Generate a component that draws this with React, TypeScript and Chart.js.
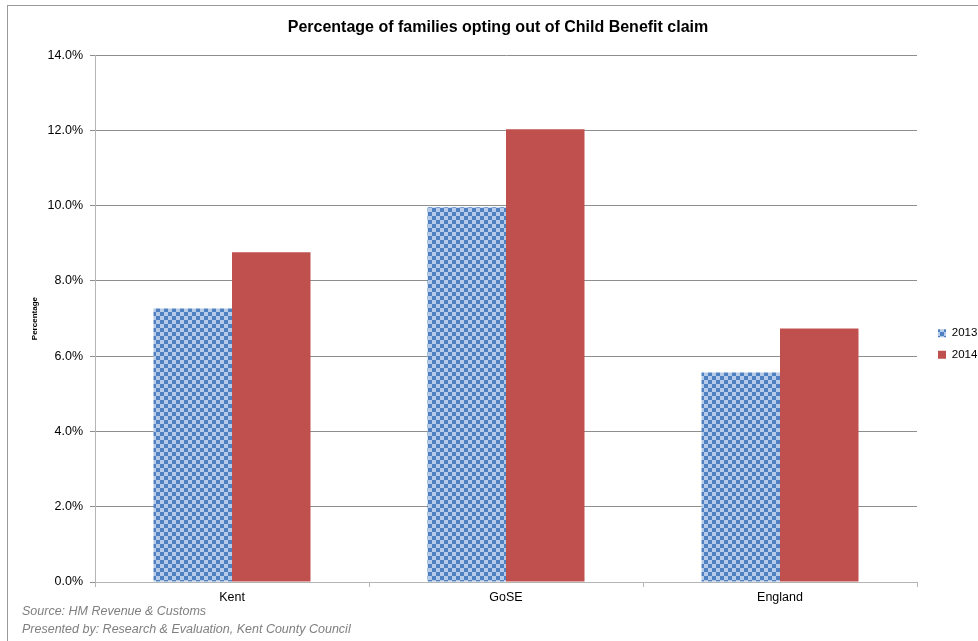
import React, { useEffect, useRef } from 'react';
import { Chart, registerables } from 'chart.js';

Chart.register(...registerables);

const categories = ['Kent', 'GoSE', 'England'];
const seriesLabels = ['2013', '2014'];
const values2013 = [7.27, 9.96, 5.57];
const values2014 = [8.76, 12.03, 6.74];
const yMax = 14;
const yStep = 2;
const chartTitle = 'Percentage of families opting out of Child Benefit claim';
const yAxisTitle = 'Percentage';
const footnotes = ['Source: HM Revenue & Customs', 'Presented by: Research & Evaluation, Kent County Council'];

const FONT = "'Liberation Sans', Arial, sans-serif";

function makeChecker(): CanvasPattern | string {
  const c = document.createElement('canvas');
  c.width = 8;
  c.height = 8;
  const g = c.getContext('2d');
  if (!g) return '#7ba0d6';
  g.fillStyle = '#b6cbea';
  g.fillRect(0, 0, 8, 8);
  g.fillStyle = '#4f81c2';
  g.fillRect(0, 0, 4, 4);
  g.fillRect(4, 4, 4, 4);
  return g.createPattern(c, 'repeat') || '#7ba0d6';
}

export default function App() {
  const ref = useRef<HTMLCanvasElement | null>(null);

  useEffect(() => {
    if (!ref.current) return;
    const pattern = makeChecker();
    const chart = new Chart(ref.current, {
      type: 'bar',
      data: {
        labels: categories,
        datasets: [
          {
            label: seriesLabels[0],
            data: values2013,
            backgroundColor: pattern as any,
            borderWidth: 0,
            categoryPercentage: 0.573,
            barPercentage: 1,
          },
          {
            label: seriesLabels[1],
            data: values2014,
            backgroundColor: '#c0504d',
            borderWidth: 0,
            categoryPercentage: 0.573,
            barPercentage: 1,
          },
        ],
      },
      options: {
        responsive: false,
        animation: false,
        devicePixelRatio: 1,
        layout: { padding: { left: 18, right: 0, top: 0, bottom: 0 } },
        plugins: {
          tooltip: { enabled: false },
          title: {
            display: true,
            text: chartTitle,
            color: '#000',
            font: { family: FONT, size: 16, weight: 'bold', lineHeight: 1.2 },
            padding: { top: 18, bottom: 18 },
          },
          legend: {
            display: true,
            position: 'right',
            maxWidth: 50,
            title: { display: true, text: '', font: { size: 10, lineHeight: 1 }, padding: { top: 18, bottom: 19 } },
            labels: {
              boxWidth: 8,
              boxHeight: 8,
              padding: 10,
              color: '#000',
              font: { family: FONT, size: 11.5 },
            },
          },
        },
        scales: {
          x: {
            type: 'category',
            offset: true,
            grid: {
              display: true,
              drawOnChartArea: false,
              drawTicks: true,
              tickLength: 5,
              color: '#b5b5b5',
              offset: true,
            },
            border: { display: true, color: '#b5b5b5', width: 1 },
            ticks: { color: '#000', padding: 3, font: { family: FONT, size: 12.5 } },
            afterFit: (s: any) => {
              s.height = 59;
            },
          },
          y: {
            type: 'linear',
            min: 0,
            max: yMax,
            grid: { color: '#8e8e8e', tickLength: 5, drawTicks: true },
            border: { display: true, color: '#b5b5b5', width: 1 },
            ticks: {
              stepSize: yStep,
              color: '#000',
              padding: 7,
              font: { family: FONT, size: 12.5 },
              callback: (v: any) => Number(v).toFixed(1) + '%',
            },
            title: {
              display: true,
              text: yAxisTitle,
              color: '#000',
              font: { family: FONT, size: 8, weight: 'bold', lineHeight: 1.2 },
              padding: { top: 12, bottom: 0 },
            },
            afterFit: (s: any) => {
              s.width = 77;
            },
          },
          yPad: {
            type: 'linear',
            position: 'right',
            display: true,
            grid: { display: false },
            border: { display: false },
            ticks: { display: false },
            afterFit: (s: any) => {
              s.width = 11;
            },
          },
        },
      },
    });
    return () => chart.destroy();
  }, []);

  return (
    <div style={{ position: 'absolute', left: 0, top: 0, width: 978, height: 641, background: '#fff', overflow: 'hidden' }}>
      <canvas ref={ref} width={978} height={641} style={{ position: 'absolute', left: 0, top: 0, width: 978, height: 641 }} />
      <div
        style={{
          position: 'absolute',
          left: 7,
          top: 5,
          width: 971,
          height: 636,
          borderTop: '1px solid #9a9a9a',
          borderLeft: '1px solid #9a9a9a',
          pointerEvents: 'none',
        }}
      />
      {footnotes.map((t, i) => (
        <div
          key={i}
          style={{
            position: 'absolute',
            left: 22,
            top: 604 + i * 18,
            height: 15,
            lineHeight: '15px',
            fontFamily: FONT,
            fontStyle: 'italic',
            fontSize: 12.5,
            color: '#7f7f7f',
            whiteSpace: 'nowrap',
          }}
        >
          {t}
        </div>
      ))}
    </div>
  );
}
